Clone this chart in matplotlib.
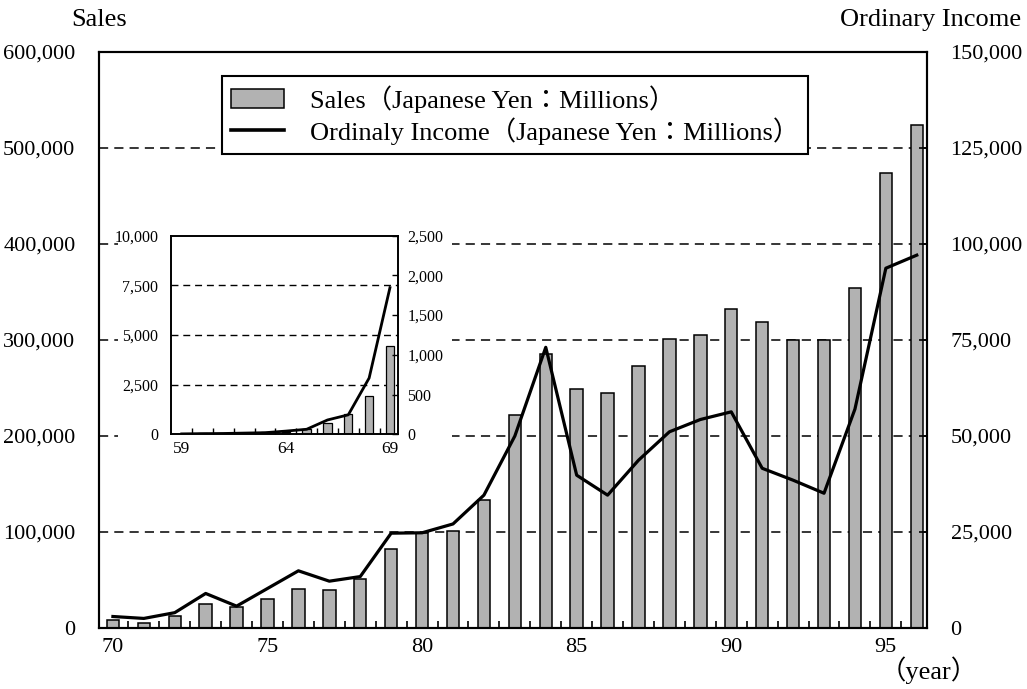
"""
Sales and ordinary income, 1970-1996, with 1959-1969 inset
"""
import numpy as np
import matplotlib.pyplot as plt
from matplotlib.ticker import FuncFormatter, FixedLocator
from matplotlib.patches import Rectangle

plt.rcParams['font.family'] = ['Liberation Serif', 'Noto Sans CJK JP']

# main period (Japanese Yen: Millions)
years = list(range(70, 97))
sales = [8000, 5500, 12500, 25000, 21500, 30000, 41000, 40000, 51000, 82000,
         98500, 101000, 133000, 222000, 285000, 248500, 244500, 273000, 301000,
         305000, 332000, 319000, 300000, 300000, 354500, 474500, 524000]
income = [3000, 2500, 4000, 9000, 5700, 10300, 14900, 12200, 13400, 24700,
          24800, 27100, 34600, 50000, 73100, 39800, 34600, 43700, 51100,
          54300, 56300, 41600, 38500, 35100, 57000, 93700, 97100]

# inset period
early_years = list(range(59, 70))
early_sales = [30, 40, 50, 60, 90, 120, 250, 560, 1000, 1940, 4430]
early_income = [5, 8, 10, 15, 20, 40, 63, 180, 245, 708, 1846]

bar_color = '#b2b2b2'
fmt = FuncFormatter(lambda v, p: f'{int(v):,}')

fig = plt.figure(figsize=(10.27, 6.89), dpi=100)
ax = fig.add_axes([0.0964, 0.0885, 0.8062, 0.836])
ax2 = ax.twinx()
ax.set_zorder(0)
ax2.set_zorder(0.1)

bars = ax.bar(years, sales, width=0.4, color=bar_color, edgecolor='black',
              linewidth=1.1, zorder=2)
for v in [100000, 200000, 300000, 400000, 500000]:
    ax.axhline(v, color='black', lw=1.1, dashes=(6, 4), zorder=1)
ax.set_xlim(69.55, 96.33)
ax.set_ylim(0, 600000)
ax.set_yticks(range(0, 600001, 100000))
ax.yaxis.set_major_formatter(fmt)
ax.set_xticks([70, 75, 80, 85, 90, 95])
ax.xaxis.set_minor_locator(FixedLocator(np.arange(70.5, 96, 1)))
ax.tick_params(axis='x', which='major', length=0, pad=7, labelsize=16)
ax.tick_params(axis='x', which='minor', direction='in', length=5, width=1.2)
ax.tick_params(axis='y', length=0, pad=17, labelsize=16)

line, = ax2.plot(years, income, color='black', lw=2.3, zorder=3)
ax2.set_ylim(0, 150000)
ax2.set_yticks(range(0, 150001, 25000))
ax2.yaxis.set_major_formatter(fmt)
ax2.tick_params(axis='y', direction='in', length=6, width=1.2, pad=17,
                labelsize=16)

for a in (ax, ax2):
    for s in a.spines.values():
        s.set_linewidth(1.5)

leg = ax2.legend([bars, line],
                 ['Sales（Japanese Yen：Millions）',
                  'Ordinaly Income（Japanese Yen：Millions）'],
                 loc='upper left', bbox_to_anchor=(0.148, 0.958),
                 fancybox=False, framealpha=1, edgecolor='black', fontsize=19,
                 handlelength=2.0, handleheight=0.72, borderpad=0.35,
                 labelspacing=0.15, handletextpad=1.0, borderaxespad=0)
leg.get_frame().set_linewidth(1.5)
for h in leg.get_lines():
    h.set_linewidth(2.6)

# white area that hides the main grid behind the inset
fig.patches.append(Rectangle((0.115, 0.325), 0.325, 0.348,
                             transform=fig.transFigure, facecolor='white',
                             edgecolor='none', zorder=1.5))

# inset 1959-1969
ins = fig.add_axes([0.1662, 0.3697, 0.221, 0.2882])
ins.set_zorder(2)
ins2 = ins.twinx()
ins2.set_zorder(2.1)
ins.bar(early_years, early_sales, width=0.4, color=bar_color,
        edgecolor='black', linewidth=0.9, zorder=2)
for v in [2500, 5000, 7500]:
    ins.axhline(v, color='black', lw=1.0, dashes=(5, 3.5), zorder=1)
ins.set_xlim(58.47, 69.37)
ins.set_ylim(0, 10000)
ins.set_yticks([0, 2500, 5000, 7500, 10000])
ins.yaxis.set_major_formatter(fmt)
ins.set_xticks([59, 64, 69])
ins.xaxis.set_minor_locator(FixedLocator(np.arange(59.5, 69, 1)))
ins.tick_params(axis='x', which='major', length=0, pad=5, labelsize=12.5)
ins.tick_params(axis='x', which='minor', direction='in', length=4, width=1)
ins.tick_params(axis='y', length=0, pad=9, labelsize=11.5)

ins2.plot(early_years, early_income, color='black', lw=2.0)
ins2.set_ylim(0, 2500)
ins2.set_yticks(range(0, 2501, 500))
ins2.yaxis.set_major_formatter(fmt)
ins2.tick_params(axis='y', direction='in', length=4, width=1, pad=7,
                 labelsize=11.5)
for a in (ins, ins2):
    for s in a.spines.values():
        s.set_linewidth(1.2)

fig.text(0.0964, 0.971, 'Sales', ha='center', va='center', fontsize=19)
fig.text(0.906, 0.971, 'Ordinary Income', ha='center', va='center',
         fontsize=19)
fig.text(0.904, 0.027, '（year）', ha='center', va='center', fontsize=19)

fig.savefig('out.png', dpi=100)
